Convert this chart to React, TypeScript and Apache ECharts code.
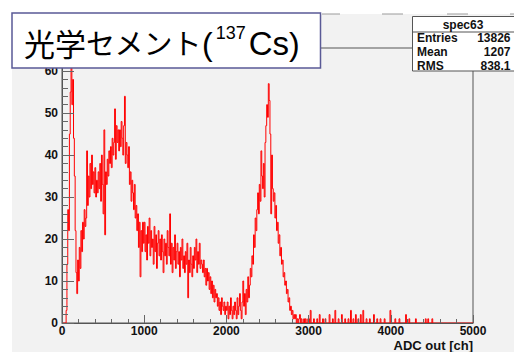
import React, { useEffect, useRef } from "react";
import * as echarts from "echarts";

// Histogram of ADC channels, bin width 10 ch, bins from 0 to 2990
const binWidth = 10;
const counts: number[] = [
  0, 0, 0, 0, 0, 3, 14, 27, 22, 45,
  55, 63, 52, 58, 44, 35, 22, 12, 7, 15,
  10, 18, 13, 22, 17, 24, 20, 27, 23, 25,
  41, 28, 35, 30, 38, 32, 40, 33, 36, 31,
  37, 30, 34, 31, 36, 32, 38, 29, 40, 33,
  26, 46, 21, 36, 33, 39, 35, 41, 38, 42,
  37, 44, 40, 43, 51, 39, 47, 43, 46, 41,
  46, 42, 48, 44, 40, 47, 54, 38, 43, 40,
  37, 42, 33, 36, 29, 34, 31, 27, 33, 25,
  28, 22, 26, 18, 24, 11, 22, 17, 24, 19,
  24, 17, 21, 15, 23, 19, 25, 16, 22, 18,
  20, 14, 23, 17, 21, 13, 19, 22, 16, 20,
  15, 21, 17, 12, 20, 16, 19, 14, 22, 18,
  16, 26, 14, 19, 12, 18, 15, 21, 13, 17,
  19, 14, 17, 11, 18, 15, 20, 13, 16, 12,
  17, 14, 19, 6, 15, 12, 18, 14, 11, 16,
  13, 18, 15, 20, 12, 17, 14, 19, 13, 15,
  14, 12, 15, 11, 13, 9, 13, 10, 12, 8,
  11, 7, 10, 6, 9, 5, 8, 6, 7, 4,
  6, 3, 5, 2, 6, 4, 3, 5, 2, 4,
  3, 5, 1, 4, 2, 6, 3, 1, 4, 2,
  5, 3, 1, 6, 2, 4, 7, 3, 1, 5,
  10, 4, 7, 2, 8, 5, 11, 6, 9, 13,
  11, 16, 14, 21, 18, 25, 22, 27, 31, 26,
  33, 29, 41, 35, 32, 38, 30, 43, 47, 52,
  49, 57, 53, 45, 26, 40, 32, 29, 31, 25,
  28, 22, 24, 19, 21, 16, 18, 14, 15, 11,
  12, 9, 10, 7, 8, 5, 6, 3, 4, 2,
  3, 1, 2, 1, 2, 0, 1, 0, 1, 2,
  0, 1, 0, 0, 1, 0, 1, 0, 0, 1,
];
// Sparse tail above 3000 ch: [bin low edge, count]
const tail: [number, number][] = [
  [3000, 1], [3020, 3], [3060, 1], [3100, 1], [3130, 2], [3170, 1], [3200, 1],
  [3250, 2], [3290, 1], [3320, 3], [3360, 1], [3400, 2], [3440, 1], [3480, 1],
  [3510, 3], [3540, 1], [3570, 2], [3600, 1], [3630, 2], [3660, 3], [3700, 1],
  [3740, 1], [3790, 2], [3830, 1], [3870, 1], [3920, 1], [3990, 3], [4050, 1],
  [4100, 1], [4180, 2], [4220, 1], [4300, 1], [4420, 1], [4450, 1], [4500, 1],
];
const xMax = 5000;
const yMax = 65.5;
const statsName = "spec63";
const statsRows: [string, string][] = [
  ["Entries", "13826"],
  ["Mean", "1207"],
  ["RMS", "838.1"],
];
const xTitle = "ADC out [ch]";

const FONT = "'Liberation Sans', Arial, sans-serif";
const CJK = "'Noto Sans CJK JP', 'Noto Sans CJK SC', sans-serif";

function buildData(): [number, number][] {
  const tailMap = new Map<number, number>(tail);
  const out: [number, number][] = [];
  const nBins = xMax / binWidth;
  let last = 0;
  for (let i = 0; i < nBins; i++) {
    const edge = i * binWidth;
    const c = i < counts.length ? counts[i] : tailMap.get(edge) ?? 0;
    out.push([edge, c]);
    last = c;
  }
  out.push([xMax, last]);
  return out;
}

export default function App() {
  const ref = useRef<HTMLDivElement>(null);
  useEffect(() => {
    if (!ref.current) return;
    const chart = echarts.init(ref.current, undefined, { renderer: "svg" });
    const graphics: any[] = [
      // top edge dashes
      ...[[322, 340], [382, 403], [447, 468], [510, 514]].map(([a, b]) => ({
        type: "line",
        shape: { x1: a, y1: 14, x2: b, y2: 14 },
        style: { stroke: "#9a9a9a", lineWidth: 1 },
        z: 50,
      })),
      // title box
      {
        type: "rect",
        shape: { x: 12, y: 13, width: 308.5, height: 55 },
        style: { fill: "#ffffff", stroke: "#5a5a96", lineWidth: 1.5 },
        z: 100,
      },
      {
        type: "text",
        x: 24,
        y: 42,
        style: {
          text: "{k|光学}{n|セメント}{p|(}{s|137}{c|Cs}{q|)}",
          align: "left",
          verticalAlign: "middle",
          fill: "#000",
          rich: {
            k: { font: `31px ${CJK}`, lineHeight: 36, verticalAlign: "middle", fill: "#000" },
            n: { font: `29px ${CJK}`, lineHeight: 36, verticalAlign: "middle", fill: "#000" },
            p: { font: `32px ${FONT}`, lineHeight: 32, verticalAlign: "bottom", fill: "#000" },
            s: {
              font: `18px ${FONT}`,
              lineHeight: 27,
              verticalAlign: "top",
              fill: "#000",
              padding: [0, 3, 0, 3],
            },
            c: { font: `33px ${FONT}`, lineHeight: 32, verticalAlign: "bottom", fill: "#000" },
            q: { font: `32px ${FONT}`, lineHeight: 32, verticalAlign: "bottom", fill: "#000" },
          },
        },
        z: 101,
      },
      // stats box
      {
        type: "rect",
        shape: { x: 412.5, y: 16.5, width: 104, height: 54.5 },
        style: { fill: "#ffffff", stroke: "#555", lineWidth: 1 },
        z: 100,
      },
      {
        type: "line",
        shape: { x1: 412.5, y1: 32, x2: 514, y2: 32 },
        style: { stroke: "#555", lineWidth: 1 },
        z: 101,
      },
      {
        type: "text",
        x: 463,
        y: 24.5,
        style: { text: statsName, font: `bold 12px ${FONT}`, fill: "#111", align: "center", verticalAlign: "middle" },
        z: 101,
      },
      ...statsRows.flatMap(([k, v], i) => [
        {
          type: "text",
          x: 417,
          y: 38 + i * 13.8,
          style: { text: k, font: `bold 12px ${FONT}`, fill: "#111", align: "left", verticalAlign: "middle" },
          z: 101,
        },
        {
          type: "text",
          x: 510.5,
          y: 38 + i * 13.8,
          style: { text: v, font: `bold 12px ${FONT}`, fill: "#111", align: "right", verticalAlign: "middle" },
          z: 101,
        },
      ]),
      // x axis title
      {
        type: "text",
        x: 473,
        y: 345,
        style: { text: xTitle, font: `bold 13px ${FONT}`, fill: "#111", align: "right", verticalAlign: "middle" },
        z: 101,
      },
    ];

    chart.setOption({
      animation: false,
      grid: {
        left: 62,
        right: 41,
        top: 48,
        bottom: 29,
        show: true,
        borderColor: "#555",
        borderWidth: 1,
        backgroundColor: "transparent",
      },
      xAxis: {
        type: "value",
        min: 0,
        max: xMax,
        interval: 1000,
        z: 5,
        axisLine: { show: true, lineStyle: { color: "#555", width: 1 } },
        axisTick: { show: true, inside: true, length: 8, lineStyle: { color: "#666" } },
        minorTick: { show: true, splitNumber: 5, length: 4, lineStyle: { color: "#666" } },
        splitLine: { show: false },
        axisLabel: {
          margin: 2,
          fontFamily: FONT,
          fontWeight: "bold",
          fontSize: 12,
          color: "#111",
          formatter: (v: number) => String(v),
        },
      },
      yAxis: {
        type: "value",
        min: 0,
        max: yMax,
        interval: 10,
        z: 5,
        axisLine: { show: true, lineStyle: { color: "#555", width: 1 } },
        axisTick: { show: true, inside: true, length: 12, lineStyle: { color: "#666" } },
        minorTick: { show: true, splitNumber: 5, length: 6, lineStyle: { color: "#666" } },
        splitLine: { show: false },
        axisLabel: {
          margin: 4,
          fontFamily: FONT,
          fontWeight: "bold",
          fontSize: 12,
          color: "#111",
          showMaxLabel: false,
          formatter: (v: number) => String(v),
        },
      },
      series: [
        {
          type: "line",
          step: "end",
          data: buildData(),
          symbol: "none",
          z: 2,
          lineStyle: { color: "#ff0000", width: 1 },
          itemStyle: { color: "#ff0000" },
        },
      ],
      graphic: graphics,
    });
    return () => chart.dispose();
  }, []);

  return (
    <div style={{ position: "fixed", left: 0, top: 0, width: 514, height: 352, background: "#ffffff" }}>
      <div style={{ position: "absolute", left: 12, top: 14, width: 502, height: 338, background: "#f2f2f2" }} />
      <div ref={ref} style={{ position: "absolute", left: 0, top: 0, width: 514, height: 352 }} />
    </div>
  );
}
